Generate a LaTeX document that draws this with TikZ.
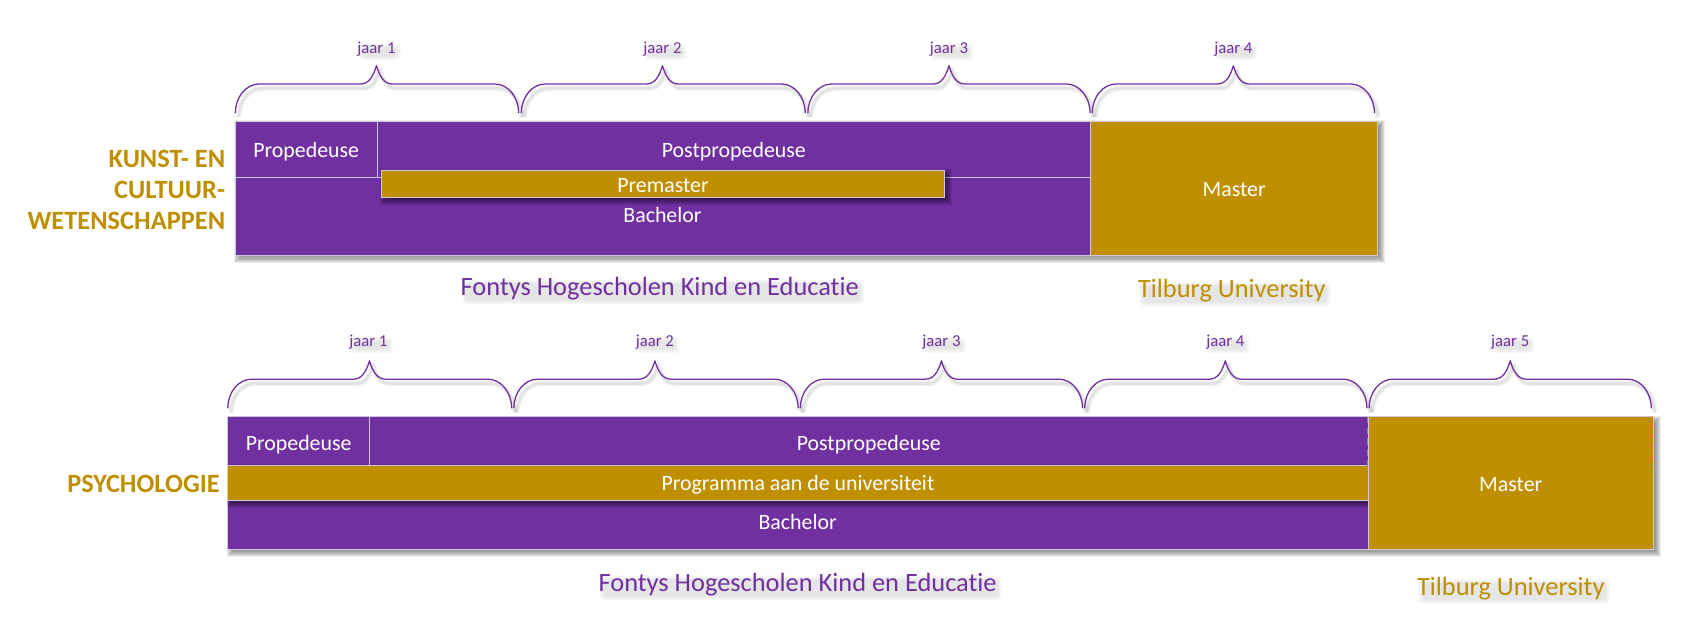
\documentclass[tikz,border=0pt]{standalone}
\usepackage{fontspec}
\setmainfont[Ligatures=CommonOff]{Carlito}
\definecolor{paars}{HTML}{7030A0}
\definecolor{goud}{HTML}{BF8F00}
\definecolor{rand}{HTML}{CFC8DC}
\definecolor{streep}{HTML}{6E8FA6}
\tikzset{
  x=1pt,y=-1pt,
  boxtext/.style={text=white,font=\fontsize{20.3}{22}\selectfont,text height=18pt,text depth=3pt},
  barbox/.style={draw=rand,line width=0.7pt,inner sep=0pt,outer sep=0pt,anchor=north west,boxtext},
  tlabel/.style={inner sep=0pt,outer sep=0pt},
  gidsstreep/.style={draw=streep,line width=0.9pt,dash pattern=on 6pt off 4pt},
  kop/.style={inner sep=0pt,outer sep=0pt,font=\fontsize{24.5}{29}\selectfont\bfseries,text=goud,align=right,anchor=east},
}
\newcommand{\softshadow}[5]{% x0 y0 x1 y1 opacity
  \foreach \d in {-2,-1,...,4}{
    \fill[black,opacity=#5] ({#1+3-\d},{#2+3-\d}) rectangle ({#3+3+\d},{#4+3+\d});
  }
}
\newcommand{\barrect}[8][]{% [opts] name x0 y0 x1 y1 fill text
  \node[barbox,fill=#7,minimum width={(#5-#3)*1pt},minimum height={(#6-#4)*1pt},#1] (#2) at (#3,#4) {#8};
}
\newcommand{\jbrace}[4]{% x0 x1 peak ybase
  \foreach \sx/\sy/\lw/\op/\col in {3/4/6/0.025/black,3/4/4/0.035/black,3/4/2.5/0.05/black,0/0/1.2/1/paars}{
    \draw[line join=round,draw=\col,line width=\lw pt,opacity=\op,shift={(\sx,\sy)}]
      (#1,#4) .. controls (#1,{#4-15}) and ({#1+10},{#4-27}) .. ({#1+22},{#4-27})
      -- ({#3-15},{#4-27}) .. controls ({#3-7},{#4-27}) and ({#3-3},{#4-34}) .. (#3,{#4-44})
      .. controls ({#3+3},{#4-34}) and ({#3+7},{#4-27}) .. ({#3+15},{#4-27})
      -- ({#2-22},{#4-27}) .. controls ({#2-10},{#4-27}) and (#2,{#4-15}) .. (#2,#4);
  }
}
\newcommand{\schaduwtekst}[6]{% name x y size colour text
  \node[tlabel,font=\fontsize{#4}{#4}\selectfont] (#1s) at (#2,#3) {\phantom{#6}};
  \foreach \d in {-2,-1,...,2}{
    \fill[black,opacity=0.02,rounded corners=3pt]
      ([shift={({3-\d},{4-\d})}]#1s.north west) rectangle ([shift={({3+\d},{2+\d})}]#1s.south east);
  }
  \node[tlabel,text=#5,font=\fontsize{#4}{#4}\selectfont] (#1) at (#2,#3) {#6};
}
\begin{document}
\begin{tikzpicture}
\useasboundingbox[fill=white] (0,0) rectangle (1568,592.3);

% ---- bovenste schema
\softshadow{218.5}{112.5}{1279}{237}{0.075}
\barrect{pa}{218.5}{112.5}{350}{164.5}{paars}{Propedeuse}
\barrect{pb}{350}{112.5}{1012.5}{164.5}{paars}{Postpropedeuse}
\node[barbox,fill=paars,minimum width=794pt,minimum height=72.5pt] (ba) at (218.5,164.5) {};
\node[tlabel,boxtext] (bat) at (615,199) {Bachelor};
\barrect{ma}{1012.5}{112.5}{1279}{237}{goud}{Master}
\softshadow{354}{158}{877}{183.5}{0.085}
\barrect{prem}{354}{158}{877}{183.5}{goud}{Premaster}
\draw[gidsstreep,draw=rand] (218.5,112.5) -- (218.5,164.5);

\jbrace{218.5}{481.5}{349.5}{105}
\jbrace{484}{747.5}{615}{105}
\jbrace{750}{1012}{881}{105}
\jbrace{1014}{1276}{1145}{105}
\schaduwtekst{ja1}{349.5}{45.5}{15.5}{paars}{jaar 1}
\schaduwtekst{ja2}{615}{45.5}{15.5}{paars}{jaar 2}
\schaduwtekst{ja3}{881}{45.5}{15.5}{paars}{jaar 3}
\schaduwtekst{ja4}{1145}{45.5}{15.5}{paars}{jaar 4}
\node[kop] (kunst) at (209,176.5) {KUNST- EN\\CULTUUR-\\WETENSCHAPPEN};
\schaduwtekst{fa}{612.5}{268}{24.5}{paars}{Fontys Hogescholen Kind en Educatie}
\schaduwtekst{ta}{1143.5}{270}{24.5}{goud}{Tilburg University}

% ---- onderste schema
\softshadow{211.5}{387}{1535}{510}{0.075}
\barrect[text height=21pt,text depth=3pt]{pc}{211.5}{387}{343}{432}{paars}{Propedeuse}
\barrect[text height=21pt,text depth=3pt]{pd}{343}{387}{1270}{432}{paars}{Postpropedeuse}
\barrect{bb}{211.5}{464.5}{1270}{510}{paars}{}
\node[tlabel,boxtext] (bbt) at (740.5,484) {Bachelor};
\softshadow{211.5}{432}{1270}{464.5}{0.085}
\barrect{prog}{211.5}{432}{1270}{464.5}{goud}{Programma aan de universiteit}
\barrect{mb}{1270}{387}{1535}{510}{goud}{Master}
\draw[gidsstreep,draw=rand] (211.5,387) -- (211.5,437);
\draw[gidsstreep] (1269.7,387) -- (1269.7,438);
\draw[gidsstreep] (1533,387) -- (1533,439);

\jbrace{211.5}{475}{343}{379}
\jbrace{477}{741}{608}{379}
\jbrace{743}{1005}{874}{379}
\jbrace{1007}{1269}{1137.5}{379}
\jbrace{1271}{1533}{1402}{379}
\schaduwtekst{jb1}{342}{317.5}{15.5}{paars}{jaar 1}
\schaduwtekst{jb2}{608}{317.5}{15.5}{paars}{jaar 2}
\schaduwtekst{jb3}{874}{317.5}{15.5}{paars}{jaar 3}
\schaduwtekst{jb4}{1137.5}{317.5}{15.5}{paars}{jaar 4}
\schaduwtekst{jb5}{1402}{317.5}{15.5}{paars}{jaar 5}
\node[kop] (psy) at (204,449) {PSYCHOLOGIE};
\schaduwtekst{fb}{740.5}{543}{24.5}{paars}{Fontys Hogescholen Kind en Educatie}
\schaduwtekst{tb}{1402.5}{546}{24.5}{goud}{Tilburg University}
\end{tikzpicture}
\end{document}
